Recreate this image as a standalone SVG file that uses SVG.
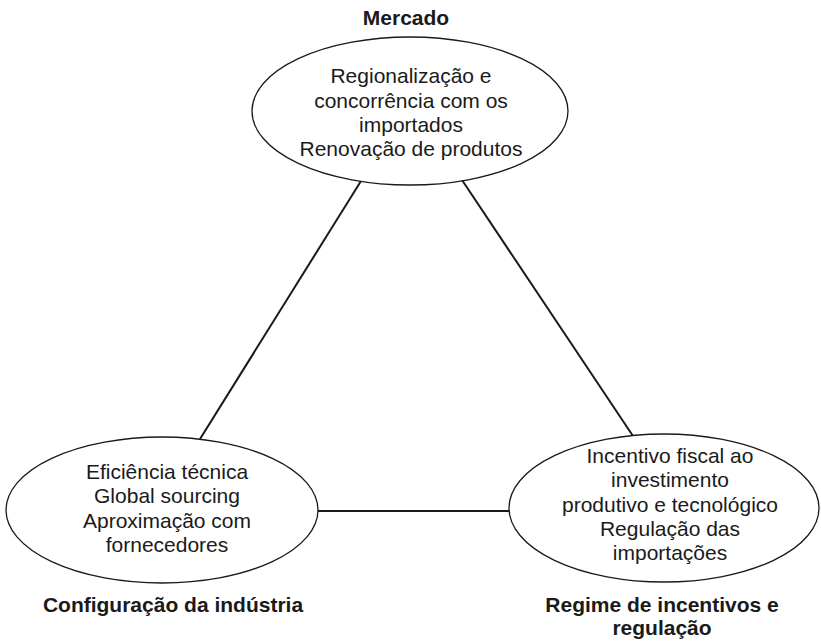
<svg xmlns="http://www.w3.org/2000/svg" width="821" height="641" viewBox="0 0 821 641">
<style>
.node ellipse{fill:#fff;stroke:#1a1a1a;stroke-width:1.3}
.t{font-family:"Liberation Sans",Arial,sans-serif;font-size:21px;fill:#1a1a1a;text-anchor:middle}
.b{font-family:"Liberation Sans",Arial,sans-serif;font-size:21px;font-weight:bold;fill:#1a1a1a;text-anchor:middle}
.conn line{stroke:#1a1a1a;stroke-width:2}
</style>
<rect width="821" height="641" fill="#fff"/>
<g id="connectors" class="conn">
<line x1="361" y1="181" x2="200" y2="439"/>
<line x1="462" y1="180" x2="633" y2="436"/>
<line x1="318" y1="511" x2="509" y2="511"/>
</g>
<g id="mercado" class="node">
<ellipse cx="410" cy="111" rx="158" ry="74"/>
<text class="t" x="411" y="83">Regionalização e</text>
<text class="t" x="411" y="107.5">concorrência com os</text>
<text class="t" x="411" y="132">importados</text>
<text class="t" x="411" y="156">Renovação de produtos</text>
<text class="b" x="406" y="25">Mercado</text>
</g>
<g id="industria" class="node">
<ellipse cx="162" cy="510" rx="156" ry="73"/>
<text class="t" x="167" y="479">Eficiência técnica</text>
<text class="t" x="167" y="503">Global sourcing</text>
<text class="t" x="167" y="528">Aproximação com</text>
<text class="t" x="167" y="552">fornecedores</text>
<text class="b" x="173" y="612">Configuração da indústria</text>
</g>
<g id="regime" class="node">
<ellipse cx="664" cy="508" rx="155" ry="74"/>
<text class="t" x="670" y="463">Incentivo fiscal ao</text>
<text class="t" x="670" y="487">investimento</text>
<text class="t" x="670" y="512">produtivo e tecnológico</text>
<text class="t" x="670" y="536">Regulação das</text>
<text class="t" x="670" y="560">importações</text>
<text class="b" x="662" y="612">Regime de incentivos e</text>
<text class="b" x="662" y="635">regulação</text>
</g>
</svg>
